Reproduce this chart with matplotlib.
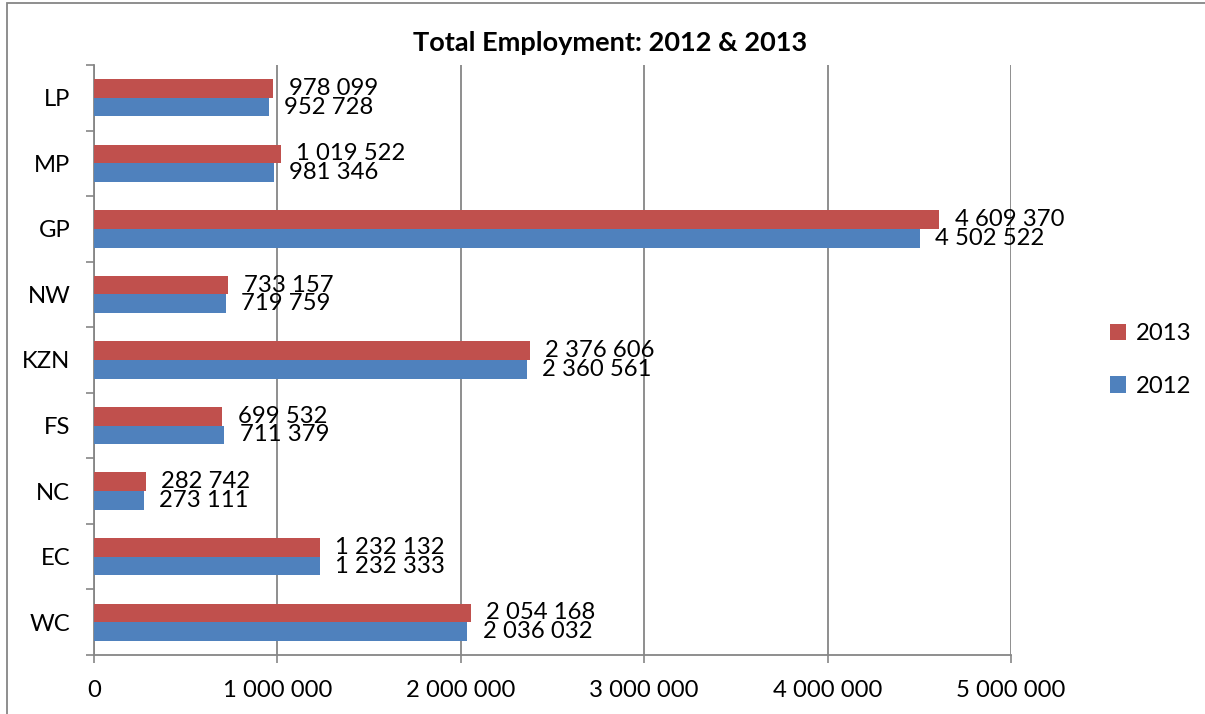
import matplotlib
matplotlib.use("Agg")
import matplotlib.pyplot as plt
from matplotlib.ticker import FuncFormatter, FixedLocator
from matplotlib.patches import Rectangle
import numpy as np

categories = ["LP", "MP", "GP", "NW", "KZN", "FS", "NC", "EC", "WC"]
emp_2013 = [978099, 1019522, 4609370, 733157, 2376606, 699532, 282742, 1232132, 2054168]
emp_2012 = [952728, 981346, 4502522, 719759, 2360561, 711379, 273111, 1232333, 2036032]
x_ticks = [0, 1000000, 2000000, 3000000, 4000000, 5000000]

plt.rcParams['font.family'] = ['Lato', 'DejaVu Sans']

RED = "#C0504D"
BLUE = "#4F81BD"
GRID = "#868686"
FS = 17.2

fig = plt.figure(figsize=(12.05, 7.14), dpi=100)
ax = fig.add_axes([94/1205, 1-655/714, (1011-94)/1205, (655-65)/714])

n = len(categories)
ypos = np.arange(n)[::-1]  # LP at top
h = 0.285

def fmt(v):
    return f"{int(v):,}".replace(",", " ")

bars13 = ax.barh(ypos + h/2, emp_2013, height=h, color=RED, label="2013", zorder=3)
bars12 = ax.barh(ypos - h/2, emp_2012, height=h, color=BLUE, label="2012", zorder=3)

for bars, vals in ((bars13, emp_2013), (bars12, emp_2012)):
    for b, v in zip(bars, vals):
        ax.annotate(fmt(v), (v, b.get_y() + b.get_height()/2), xytext=(11, 0),
                    textcoords="offset points", va="center", ha="left",
                    fontsize=FS, color="black", zorder=4)

ax.set_xlim(0, 5000000)
ax.set_ylim(-0.5, n - 0.5)
ax.xaxis.set_major_locator(FixedLocator(x_ticks))
ax.xaxis.set_major_formatter(FuncFormatter(lambda v, p: fmt(v)))
ax.set_yticks(ypos)
ax.set_yticklabels(categories)
ax.set_yticks(np.arange(-0.5, n, 1.0), minor=True)
ax.tick_params(axis="y", which="major", length=0, pad=17, labelsize=FS)
ax.tick_params(axis="y", which="minor", length=6, width=1.2, color=GRID, direction="out")
ax.tick_params(axis="x", which="major", length=6, width=1.2, color=GRID, direction="out",
               pad=12, labelsize=FS)

ax.grid(axis="x", color=GRID, linewidth=1.3, zorder=0)
for s in ("top", "right"):
    ax.spines[s].set_visible(False)
for s in ("left", "bottom"):
    ax.spines[s].set_color(GRID)
    ax.spines[s].set_linewidth(1.3)

fig.text(610/1205, 1-43/714, "Total Employment: 2012 & 2013", fontsize=19.5,
         fontweight="bold", ha="center", va="center")

handles = [bars13, bars12]
leg = fig.legend(handles, ["2013", "2012"], loc="center left",
                 bbox_to_anchor=(1088/1205, 1-360/714), frameon=False,
                 fontsize=FS, handlelength=0.7, handleheight=0.7,
                 handletextpad=0.4, labelspacing=1.3)

fig.patches.append(Rectangle((7/1205, -0.01), 1.1, 1-3/714+0.01, transform=fig.transFigure,
                             fill=False, edgecolor=GRID, linewidth=1.3))

fig.savefig("out.png", dpi=100)
